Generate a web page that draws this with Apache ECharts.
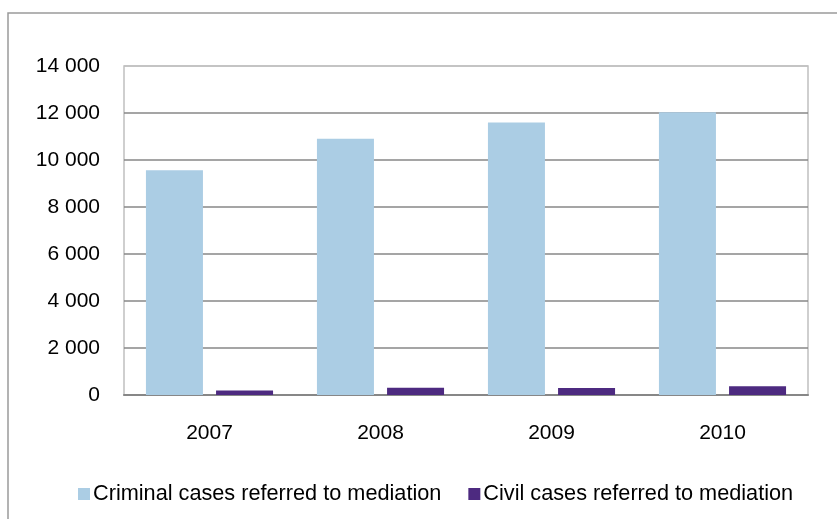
<!DOCTYPE html>
<html>
<head>
<meta charset="utf-8">
<script src="https://cdn.jsdelivr.net/npm/echarts@6/dist/echarts.min.js"></script>
<style>
  html, body { margin: 0; padding: 0; background: #fff; }
  #main { width: 837px; height: 519px; }
</style>
</head>
<body>
<div id="main"></div>
<script>
const years = ['2007', '2008', '2009', '2010'];
const criminal = [9560, 10900, 11600, 12030];
const civil = [190, 305, 300, 375];
const seriesNames = ['Criminal cases referred to mediation', 'Civil cases referred to mediation'];

const chart = echarts.init(document.getElementById('main'));
const font = 'Liberation Sans, Arial, sans-serif';

const option = {
  backgroundColor: '#fff',
  animation: false,
  graphic: [{
    type: 'rect',
    shape: { x: 8, y: 13, width: 860, height: 540 },
    style: { fill: 'none', stroke: '#9a9a9a', lineWidth: 1.5 },
    silent: true
  }],
  grid: {
    left: 124,
    right: 29,
    top: 66,
    bottom: 124,
    show: true,
    borderColor: '#c0c0c0',
    borderWidth: 1.5
  },
  legend: {
    data: seriesNames,
    left: 73,
    top: 478,
    itemWidth: 12,
    itemHeight: 12,
    itemGap: 27,
    icon: 'rect',
    textStyle: { fontFamily: font, fontSize: 21.7, color: '#000', padding: [0, 0, 0, -2] }
  },
  xAxis: {
    type: 'category',
    data: years,
    axisLine: { lineStyle: { color: '#878787', width: 2 } },
    axisTick: { show: false },
    axisLabel: { fontFamily: font, fontSize: 21, color: '#000', margin: 28 }
  },
  yAxis: {
    type: 'value',
    min: 0,
    max: 14000,
    interval: 2000,
    axisLine: { show: false },
    axisTick: { show: false },
    axisLabel: {
      fontFamily: font,
      fontSize: 21,
      color: '#000',
      margin: 24,
      formatter: v => v >= 1000 ? Math.floor(v / 1000) + ' ' + String(v % 1000).padStart(3, '0') : String(v)
    },
    splitLine: {
      lineStyle: {
        color: ['#878787', '#878787', '#878787', '#878787', '#878787', '#878787', '#878787', '#c0c0c0'],
        width: 1.5
      }
    }
  },
  series: [
    {
      name: seriesNames[0],
      type: 'bar',
      data: criminal,
      barWidth: 57,
      barGap: '23%',
      itemStyle: { color: '#abcde4' }
    },
    {
      name: seriesNames[1],
      type: 'bar',
      data: civil,
      barWidth: 57,
      itemStyle: { color: '#4d2a80' }
    }
  ]
};

chart.setOption(option);
</script>
</body>
</html>
